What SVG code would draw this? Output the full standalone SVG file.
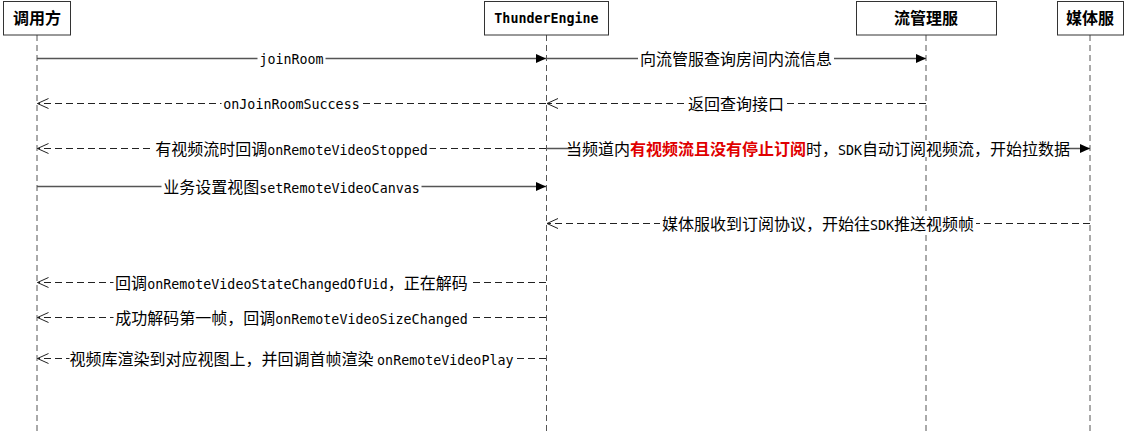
<svg xmlns="http://www.w3.org/2000/svg" width="1128" height="445" viewBox="0 0 1128 445">
<style>
.box{fill:#fff;stroke:#333;stroke-width:1}
.life{stroke:#555;stroke-width:1;stroke-dasharray:6 4;fill:none}
.sync{stroke:#555;stroke-width:1.3;fill:none}
.ret{stroke:#222;stroke-width:1;stroke-dasharray:7 4;fill:none}
.bg{fill:#fff}
.t{font-family:"Noto Sans CJK SC","Noto Sans CJK JP",sans-serif;font-size:16px;fill:#000;text-anchor:middle}
.m{font-family:"DejaVu Sans Mono","Liberation Mono",monospace;font-size:13.33px}
.title{font-family:"Noto Sans CJK SC",sans-serif;font-size:16px;font-weight:bold;fill:#000;text-anchor:middle}
.titlem{font-family:"DejaVu Sans Mono","Liberation Mono",monospace;font-size:13.33px;font-weight:bold;fill:#000;text-anchor:middle}
.red{fill:#e00000;font-weight:bold}
</style>
<defs>
<marker id="filled" markerUnits="userSpaceOnUse" markerWidth="11" markerHeight="10" refX="10" refY="4.5" orient="auto" overflow="visible">
<path d="M0,0 L10,4.5 L0,9 Z" fill="#000"/>
</marker>
<marker id="open" markerUnits="userSpaceOnUse" markerWidth="12" markerHeight="12" refX="11" refY="5" orient="auto" overflow="visible">
<path d="M0,0 L11,5 L0,10" fill="none" stroke="#222" stroke-width="1"/>
</marker>
</defs>
<rect width="1128" height="445" fill="#fff"/>

<g id="lifelines">
<line class="life" x1="37" y1="35" x2="37" y2="435"/>
<line class="life" x1="546.5" y1="35" x2="546.5" y2="435"/>
<line class="life" x1="926" y1="35" x2="926" y2="435"/>
<line class="life" x1="1090" y1="35" x2="1090" y2="435"/>
</g>

<g id="node-caller">
<rect class="box" x="3.5" y="1.5" width="67" height="33.5"/>
<text class="title" x="37" y="24">调用方</text>
</g>
<g id="node-thunderengine">
<rect class="box" x="484.5" y="1.5" width="124" height="33.5"/>
<text class="titlem" x="546.5" y="23">ThunderEngine</text>
</g>
<g id="node-streammgr">
<rect class="box" x="856.5" y="1.5" width="140" height="33.5"/>
<text class="title" x="926" y="24">流管理服</text>
</g>
<g id="node-media">
<rect class="box" x="1057.5" y="1.5" width="66" height="33.5"/>
<text class="title" x="1090" y="24">媒体服</text>
</g>

<g id="connectors">
<line class="sync" x1="37" y1="58.5" x2="546" y2="58.5" marker-end="url(#filled)"/>
<line class="sync" x1="547" y1="58.5" x2="926" y2="58.5" marker-end="url(#filled)"/>
<line class="ret" x1="926" y1="103.5" x2="547" y2="103.5" marker-end="url(#open)"/>
<line class="ret" x1="546" y1="103.5" x2="37.5" y2="103.5" marker-end="url(#open)"/>
<line class="ret" x1="546" y1="148.5" x2="37.5" y2="148.5" marker-end="url(#open)"/>
<line class="sync" x1="547" y1="148.5" x2="1090" y2="148.5" marker-end="url(#filled)"/>
<line class="sync" x1="37" y1="186.5" x2="546" y2="186.5" marker-end="url(#filled)"/>
<line class="ret" x1="1090" y1="223.5" x2="547" y2="223.5" marker-end="url(#open)"/>
<line class="ret" x1="546" y1="282.5" x2="37.5" y2="282.5" marker-end="url(#open)"/>
<line class="ret" x1="546" y1="317.5" x2="37.5" y2="317.5" marker-end="url(#open)"/>
<line class="ret" x1="546" y1="358.5" x2="37.5" y2="358.5" marker-end="url(#open)"/>

<g id="labels">
<rect class="bg" x="257.5" y="50" width="68" height="17"/>
<text class="t" x="291.5" y="64"><tspan class="m">joinRoom</tspan></text>

<rect class="bg" x="638" y="50" width="196" height="17"/>
<text class="t" x="736" y="65">向流管服查询房间内流信息</text>

<rect class="bg" x="686" y="95" width="100" height="17"/>
<text class="t" x="736" y="110">返回查询接口</text>

<rect class="bg" x="221.5" y="95" width="140" height="17"/>
<text class="t" x="291.5" y="109"><tspan class="m">onJoinRoomSuccess</tspan></text>

<rect class="bg" x="153.5" y="140" width="276" height="17"/>
<text class="t" x="291.5" y="155">有视频流时回调<tspan class="m">onRemoteVideoStopped</tspan></text>

<rect class="bg" x="572" y="140" width="492" height="17"/>
<text class="t" x="818" y="155">当频道内<tspan class="red">有视频流且没有停止订阅</tspan>时，<tspan class="m">SDK</tspan>自动订阅视频流，开始拉数据</text>

<rect class="bg" x="161.5" y="178" width="260" height="17"/>
<text class="t" x="291.5" y="193">业务设置视图<tspan class="m">setRemoteVideoCanvas</tspan></text>

<rect class="bg" x="660" y="215" width="316" height="17"/>
<text class="t" x="818" y="230">媒体服收到订阅协议，开始往<tspan class="m">SDK</tspan>推送视频帧</text>

<rect class="bg" x="113.5" y="274" width="356" height="17"/>
<text class="t" x="291.5" y="289">回调<tspan class="m">onRemoteVideoStateChangedOfUid</tspan>，正在解码</text>

<rect class="bg" x="113.5" y="309" width="356" height="17"/>
<text class="t" x="291.5" y="324">成功解码第一帧，回调<tspan class="m">onRemoteVideoSizeChanged</tspan></text>

<rect class="bg" x="69.5" y="350" width="444" height="17"/>
<text class="t" x="291.5" y="365">视频库渲染到对应视图上，并回调首帧渲染 <tspan class="m">onRemoteVideoPlay </tspan></text>
</g>
</g>
</svg>
